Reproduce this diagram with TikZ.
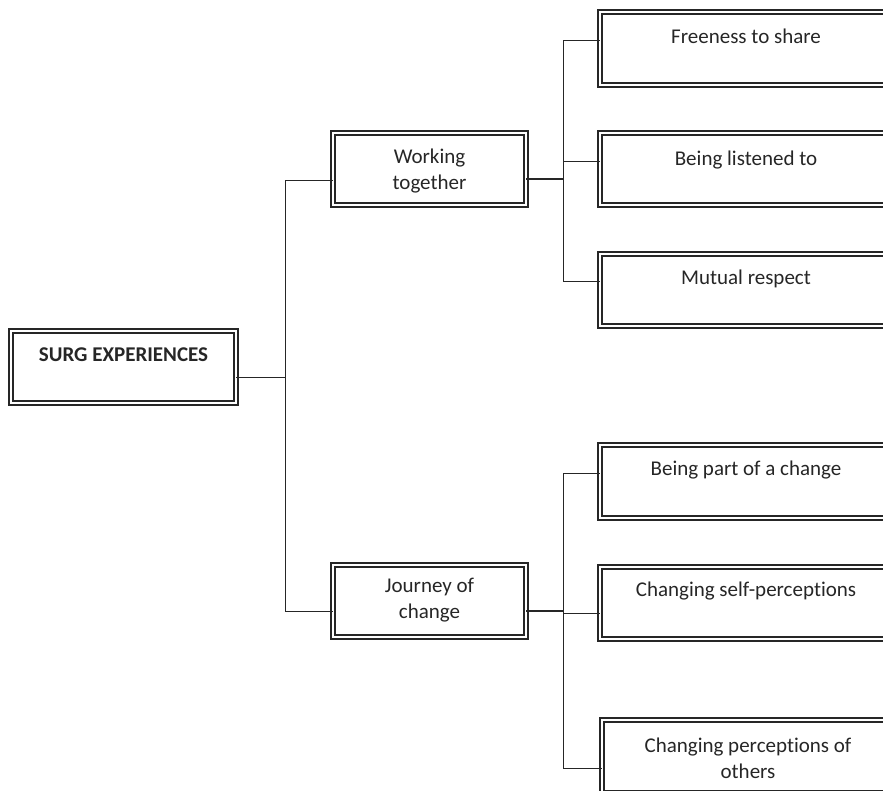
\documentclass[tikz,border=0pt]{standalone}
\usepackage{fontspec}
\setmainfont{Carlito}[Ligatures={NoCommon,NoRequired,NoContextual}]
\usetikzlibrary{positioning}

\tikzset{
  frame/.style={draw=black!85, double=white, double distance=2.8pt, line width=1.2pt,
    rectangle, outer sep=0pt, inner ysep=0pt, align=center, anchor=north west,
    text=black!85, font=\fontsize{21}{26}\selectfont},
  link/.style={draw=black!85, line width=0.9pt},
  heavylink/.style={draw=black!85, line width=1.6pt}
}

\begin{document}
\begin{tikzpicture}[x=1pt,y=-1pt]
\clip (0,0) rectangle (883,790);
\coordinate (ts) at (285,377);
\coordinate (tw) at (285,180);
\coordinate (tj) at (285,611);
\coordinate (bw) at (563,179);
\coordinate (bj) at (563,611);
\coordinate (r1) at (563,40);
\coordinate (r2) at (563,161);
\coordinate (r3) at (563,281);
\coordinate (r4) at (563,473);
\coordinate (r5) at (563,613);
\coordinate (r6) at (563,768);
% left and middle boxes
\node (surg) at (11,331) [frame, minimum width=225pt, text height=30pt, text depth=42pt]{\textbf{SURG EXPERIENCES}};
\node (work) at (333,133) [frame, minimum width=193pt, text height=56pt, text depth=16pt]{Working\\together};
\node (journey) at (333,565) [frame, minimum width=193pt, text height=53pt, text depth=19pt]{Journey of\\change};
% right boxes
\node (free) at (600,12) [frame, minimum width=292pt, text height=31pt, text depth=42pt]{Freeness to share};
\node (listen) at (600,133) [frame, minimum width=292pt, text height=32pt, text depth=40pt]{Being listened to};
\node (respect) at (600,254) [frame, minimum width=292pt, text height=30pt, text depth=42pt]{Mutual respect};
\node (part) at (600,445) [frame, minimum width=292pt, text height=30pt, text depth=43pt]{Being part of a change};
\node (self) at (600,567) [frame, minimum width=292pt, text height=29pt, text depth=43pt]{Changing self-perceptions};
\node (others) at (602,720) [frame, minimum width=292pt, text height=58pt, text depth=15pt]{Changing perceptions of\\others};
% trunk
\draw[link] (surg.east |- ts) -- (ts);
\draw[link] (tw) -- (tj);
\draw[link] (tw) -- (work.west |- tw);
\draw[link] (tj) -- (journey.west |- tj);
% upper branch
\draw[heavylink] (work.east |- bw) -- (bw);
\draw[link] (r1) -- (r3);
\draw[link] (r1) -- (free.west |- r1);
\draw[link] (r2) -- (listen.west |- r2);
\draw[link] (r3) -- (respect.west |- r3);
% lower branch
\draw[heavylink] (journey.east |- bj) -- (bj);
\draw[link] (r4) -- (r6);
\draw[link] (r4) -- (part.west |- r4);
\draw[link] (r5) -- (self.west |- r5);
\draw[link] (r6) -- (others.west |- r6);
\end{tikzpicture}
\end{document}
